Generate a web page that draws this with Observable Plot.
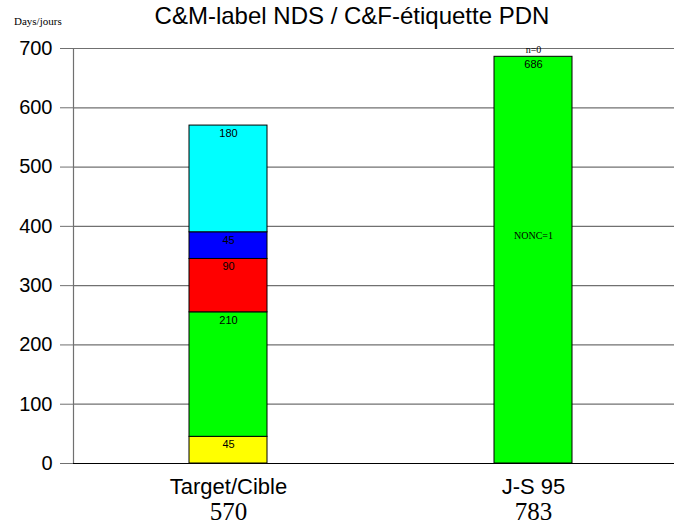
<!DOCTYPE html>
<html><head><meta charset="utf-8">
<script src="https://cdn.jsdelivr.net/npm/d3@7"></script>
<script src="https://cdn.jsdelivr.net/npm/@observablehq/plot@0.6"></script>
<style>
body{margin:0;background:#fff;}
#wrap{position:relative;width:674px;}
#title{height:36px;position:relative;font-family:"Liberation Sans",Arial,sans-serif;font-size:24px;color:#000;}
#title .t{position:absolute;left:0;width:704px;text-align:center;top:2px;}
#title .u{position:absolute;left:14px;top:15px;font-family:"Liberation Serif","Times New Roman",serif;font-size:11px;}
#chart svg{display:block;font-family:"Liberation Sans",Arial,sans-serif;background:#fff;}
</style></head>
<body>
<div id="wrap">
<div id="title"><div class="t">C&amp;M-label NDS / C&amp;F-étiquette PDN</div><div class="u">Days/jours</div></div>
<div id="chart"></div>
</div>
<script>
const categories = ["Target/Cible", "J-S 95"];
const totals = ["570", "783"];
const targetSegments = [45, 210, 90, 45, 180];
const targetColors = ["#ffff00", "#00ff00", "#ff0000", "#0000ff", "#00ffff"];
const jsValue = 686;
const jsColor = "#00ff00";
const topNotes = ["", "n=0"];
const innerNote = {text: "NONC=1", y: 384};
const yTicks = [0, 100, 200, 300, 400, 500, 600, 700];

const segs = [];
targetSegments.forEach((v, i) => segs.push({cat: categories[0], v, color: targetColors[i]}));
segs.push({cat: categories[1], v: jsValue, color: jsColor});

const stacked = [];
const acc = {};
for (const s of segs) {
  const y1 = acc[s.cat] || 0;
  const y2 = y1 + s.v;
  acc[s.cat] = y2;
  stacked.push({...s, y1, y2});
}
const catInfo = categories.map((c, i) => ({cat: c, total: totals[i], note: topNotes[i], top: acc[c]}));

const chart = Plot.plot({
  width: 674,
  height: 487,
  marginTop: 12,
  marginBottom: 60,
  marginLeft: 73,
  marginRight: 0,
  x: {domain: categories, range: [73, 687], paddingInner: 0.745, paddingOuter: 0.376, axis: null},
  y: {domain: [0, 700], axis: null},
  marks: [
    Plot.ruleY(yTicks.filter(d => d > 0), {stroke: "#707070", strokeWidth: 1.2}),
    Plot.axisY({ticks: yTicks, tickSize: 13, tickPadding: 8, fontSize: 20, stroke: "#707070", color: "#000", label: null}),
    Plot.frame({anchor: "left", stroke: "#707070", strokeWidth: 1.2}),
    Plot.rectY(stacked, {x: "cat", y1: "y1", y2: "y2", fill: "color", stroke: "#000", strokeWidth: 1}),
    Plot.text(stacked, {x: "cat", y: "y2", text: d => String(d.v), dy: 8, fontSize: 11, fill: "#000"}),
    Plot.text(catInfo.filter(d => d.note), {x: "cat", y: "top", text: "note", dy: -7, fontSize: 10, fill: "#000"}),
    Plot.text([innerNote], {x: () => categories[1], y: "y", text: "text", fontSize: 10, fill: "#000"}),
    Plot.ruleY([0], {stroke: "#000", strokeWidth: 1.2}),
    Plot.text(catInfo, {x: "cat", y: () => 0, text: "cat", dy: 23, fontSize: 22, fill: "#000"}),
    Plot.text(catInfo, {x: "cat", y: () => 0, text: "total", dy: 48, fontSize: 25, fill: "#000"})
  ]
});
const serifTexts = new Set([...totals, ...topNotes.filter(Boolean), innerNote.text]);
d3.select(chart).selectAll("text")
  .filter(function() { return serifTexts.has(this.textContent); })
  .style("font-family", "'Liberation Serif', 'Times New Roman', serif");
document.getElementById("chart").appendChild(chart);
</script>
</body></html>
